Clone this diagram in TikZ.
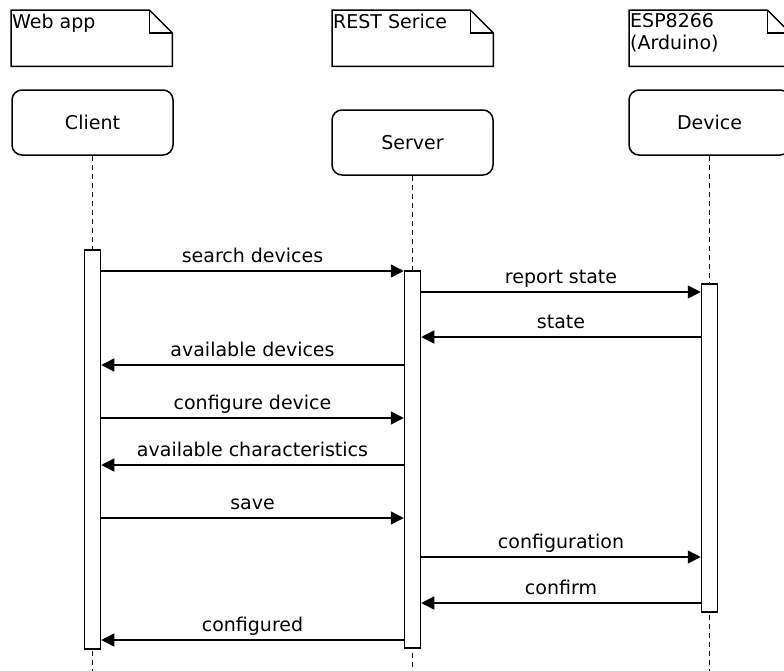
\documentclass[tikz,border=0pt]{standalone}
\usepackage{fontspec}
\setmainfont{DejaVu Sans}
\usetikzlibrary{arrows.meta}
\newcommand\dognote[1]{%
  \draw[lw,fill=white] (#1.north west) -- ([xshift=-23pt]#1.north east) -- ([yshift=-23pt]#1.north east) -- (#1.south east) -- (#1.south west) -- cycle;
  \draw[lw] ([xshift=-23pt]#1.north east) |- ([yshift=-23pt]#1.north east);}
\begin{document}
\begin{tikzpicture}[x=1pt,y=-1pt,
  every node/.style={font=\fontsize{19}{22.5}\selectfont},
  lw/.style={line width=1.5pt},
  notebox/.style={minimum width=161pt, minimum height=56pt, inner sep=0pt, anchor=north west},
  notetext/.style={anchor=north west, inner sep=1pt, align=left},
  actor/.style={draw, lw, rounded corners=10pt, minimum width=161pt, minimum height=65pt, inner sep=0pt},
  bar/.style={draw, lw, fill=white, minimum width=16pt, inner sep=0pt},
  life/.style={lw, dash pattern=on 5pt off 4pt},
  msg/.style={lw, -{Triangle[length=13pt,width=13pt]}},
  lbl/.style={midway, anchor=base, inner sep=0pt, yshift=9pt}]
\useasboundingbox (0,0) rectangle (784,670);
\clip (0,0) rectangle (784,670);

% notes
\node[notebox] (webnote) at (11,10) {};
\node[notebox] (restnote) at (332,10) {};
\node[notebox] (espnote) at (629,10) {};
\dognote{webnote}
\dognote{restnote}
\dognote{espnote}
\node[notetext] (webtxt) at ([yshift=-3pt]webnote.north west) {Web app};
\node[notetext] (resttxt) at ([yshift=-3pt]restnote.north west) {REST Serice};
\node[notetext] (esptxt) at ([yshift=-2pt]espnote.north west) {ESP8266\\(Arduino)};

% actors
\node[actor] (client) at (92.5,122.5) {Client};
\node[actor] (server) at (412.5,142.5) {Server};
\node[actor] (device) at (709.5,122.5) {Device};

% lifelines
\coordinate (bottom) at (0,672);
\draw[life] (client.south) -- (client.south |- bottom);
\draw[life] (server.south) -- (server.south |- bottom);
\draw[life] (device.south) -- (device.south |- bottom);

% activation bars
\node[bar, minimum height=399pt] (cbar) at (92.5,449.5) {};
\node[bar, minimum height=377pt] (sbar) at (412.5,459.5) {};
\node[bar, minimum height=328pt] (dbar) at (709.5,448) {};

% messages
\draw[msg] (cbar.east |- 0,271) -- node[lbl] {search devices} (sbar.west |- 0,271);
\draw[msg] (sbar.east |- 0,292) -- node[lbl] {report state} (dbar.west |- 0,292);
\draw[msg] (dbar.west |- 0,337) -- node[lbl] {state} (sbar.east |- 0,337);
\draw[msg] (sbar.west |- 0,365) -- node[lbl] {available devices} (cbar.east |- 0,365);
\draw[msg] (cbar.east |- 0,418) -- node[lbl] {configure device} (sbar.west |- 0,418);
\draw[msg] (sbar.west |- 0,465) -- node[lbl] {available characteristics} (cbar.east |- 0,465);
\draw[msg] (cbar.east |- 0,518) -- node[lbl] {save} (sbar.west |- 0,518);
\draw[msg] (sbar.east |- 0,557) -- node[lbl] {configuration} (dbar.west |- 0,557);
\draw[msg] (dbar.west |- 0,603) -- node[lbl] {confirm} (sbar.east |- 0,603);
\draw[msg] (sbar.west |- 0,640) -- node[lbl] {configured} (cbar.east |- 0,640);
\end{tikzpicture}
\end{document}
